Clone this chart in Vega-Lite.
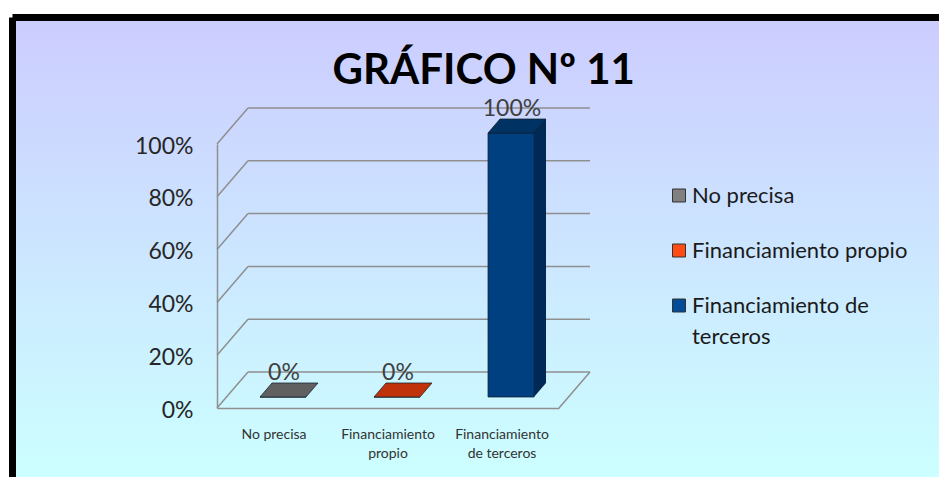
{
  "$schema": "https://vega.github.io/schema/vega-lite/v6.json",
  "width": 926.5,
  "height": 459.5,
  "autosize": {"type": "none"},
  "padding": {"left": 12.5, "top": 17.5, "right": 0, "bottom": 0},
  "background": "#ffffff",
  "view": {
    "fill": {"gradient": "linear", "x1": 0, "y1": 0, "x2": 0, "y2": 1, "stops": [{"offset": 0, "color": "#ccccff"}, {"offset": 1, "color": "#ccffff"}]},
    "stroke": "#000000",
    "strokeWidth": 7,
    "strokeDash": [926.5, 1386, 459.5, 0]
  },
  "config": {"font": "Lato", "style": {"guide-label": {"lineHeight": 31}}},
  "title": {
    "text": "GRÁFICO Nº 11",
    "font": "Lato",
    "fontSize": 42,
    "fontWeight": "bold",
    "color": "#000000",
    "anchor": "middle",
    "frame": "group",
    "offset": 0,
    "baseline": "alphabetic",
    "dy": 108.5,
    "dx": 8
  },
  "datasets": {
    "bars": [
      {"category": "No precisa", "share": 0},
      {"category": "Financiamiento propio", "share": 0},
      {"category": "Financiamiento de terceros", "share": 1}
    ],
    "ticks": [
      {"tick": 0}, {"tick": 0.2}, {"tick": 0.4}, {"tick": 0.6}, {"tick": 0.8}, {"tick": 1}
    ]
  },
  "layer": [
    {
      "data": {"name": "ticks"},
      "mark": {"type": "rule", "color": "#8f8f8f", "strokeWidth": 1.5, "xOffset": 31, "x2Offset": 31, "yOffset": -36},
      "encoding": {
        "x": {"datum": "No precisa", "type": "nominal", "bandPosition": 0},
        "x2": {"datum": "Financiamiento de terceros", "bandPosition": 1},
        "y": {"field": "tick", "type": "quantitative"}
      }
    },
    {
      "data": {"name": "ticks"},
      "mark": {"type": "point", "shape": "M0,0L31,-36", "size": 4, "filled": false, "opacity": 1, "color": "#8f8f8f", "strokeWidth": 1.5},
      "encoding": {
        "x": {"datum": "No precisa", "type": "nominal", "bandPosition": 0},
        "y": {"field": "tick", "type": "quantitative"}
      }
    },
    {
      "data": {"name": "ticks"},
      "transform": [{"filter": "datum.tick == 0"}],
      "mark": {"type": "point", "shape": "M0,0L31,-36", "size": 4, "filled": false, "opacity": 1, "color": "#8f8f8f", "strokeWidth": 1.5},
      "encoding": {
        "x": {"datum": "Financiamiento de terceros", "type": "nominal", "bandPosition": 1},
        "y": {"field": "tick", "type": "quantitative"}
      }
    },
    {
      "data": {"name": "bars"},
      "mark": {"type": "bar", "width": 46, "xOffset": 9, "yOffset": -11, "y2Offset": -11, "stroke": "#10202e", "strokeWidth": 0.75, "opacity": 1},
      "encoding": {
        "x": {
          "field": "category",
          "type": "nominal",
          "scale": {"domain": ["No precisa", "Financiamiento propio", "Financiamiento de terceros"], "range": [204.5, 546.5], "paddingInner": 0, "paddingOuter": 0},
          "axis": {
            "orient": "bottom",
            "offset": -69,
            "title": null,
            "domain": true,
            "domainColor": "#8f8f8f",
            "domainWidth": 1.5,
            "ticks": false,
            "tickSize": 0,
            "grid": false,
            "labelAngle": 0,
            "labelAlign": "center",
            "labelBaseline": "top",
            "labelFont": "Lato",
            "labelFontSize": 14,
            "labelColor": "#333333",
            "labelPadding": 19,
            "labelLineHeight": 19,
            "labelLimit": 200,
            "labelExpr": "datum.value == 'Financiamiento propio' ? ['Financiamiento', 'propio'] : datum.value == 'Financiamiento de terceros' ? ['Financiamiento', 'de terceros'] : datum.label"
          }
        },
        "y": {
          "field": "share",
          "type": "quantitative",
          "scale": {"domain": [0, 1], "range": [390.5, 126.5], "nice": false, "zero": true},
          "axis": {
            "orient": "left",
            "offset": -204.5,
            "title": null,
            "values": [0, 0.2, 0.4, 0.6, 0.8, 1],
            "format": ".0%",
            "domain": true,
            "domainColor": "#8f8f8f",
            "domainWidth": 1.5,
            "ticks": false,
            "tickSize": 0,
            "grid": false,
            "labelFont": "Lato",
            "labelFontSize": 23,
            "labelColor": "#262626",
            "labelPadding": 24,
            "labelOffset": 2
          }
        },
        "color": {
          "field": "category",
          "type": "nominal",
          "scale": {"domain": ["No precisa", "Financiamiento propio", "Financiamiento de terceros"], "range": ["#808080", "#ff4b14", "#004c99"]},
          "legend": {
            "orient": "none",
            "legendX": 655.5,
            "legendY": 167,
            "title": null,
            "padding": 0,
            "symbolType": "square",
            "symbolSize": 169,
            "symbolStrokeColor": "#333333",
            "symbolStrokeWidth": 1,
            "labelFont": "Lato",
            "labelFontSize": 22,
            "labelColor": "#1a1a1a",
            "labelOffset": 2,
            "labelLimit": 400,
            "rowPadding": 33,
            "labelExpr": "datum.label == 'Financiamiento de terceros' ? ['Financiamiento de', 'terceros'] : datum.label",
            "encode": {
              "labels": {"lineHeight": {"value": 31}}
            }
          }
        }
      }
    },
    {
      "data": {"name": "bars"},
      "transform": [{"filter": "datum.share > 0"}],
      "mark": {"type": "bar", "width": 45, "xOffset": 9, "yOffset": -11, "y2Offset": -11, "color": "#000000", "opacity": 0.16},
      "encoding": {
        "x": {"field": "category", "type": "nominal"},
        "y": {"field": "share", "type": "quantitative"}
      }
    },
    {
      "data": {"name": "bars"},
      "transform": [{"filter": "datum.share > 0"}],
      "mark": {"type": "bar", "width": 12, "xOffset": 38, "yOffset": -25, "y2Offset": -25, "opacity": 1},
      "encoding": {
        "x": {"field": "category", "type": "nominal"},
        "y": {"field": "share", "type": "quantitative"},
        "color": {
          "field": "category",
          "type": "nominal",
          "scale": {"domain": ["No precisa", "Financiamiento propio", "Financiamiento de terceros"], "range": ["#4a4a4a", "#9a2a08", "#002a55"]},
          "legend": null
        }
      }
    },
    {
      "data": {"name": "bars"},
      "transform": [{"filter": "datum.share > 0"}],
      "mark": {"type": "point", "shape": "M0,0L12,-14L0,-14Z", "size": 4, "filled": true, "opacity": 1, "xOffset": 32, "yOffset": -11},
      "encoding": {
        "x": {"field": "category", "type": "nominal"},
        "y": {"datum": 0, "type": "quantitative"},
        "color": {
          "field": "category",
          "type": "nominal",
          "scale": {"domain": ["No precisa", "Financiamiento propio", "Financiamiento de terceros"], "range": ["#4a4a4a", "#9a2a08", "#002a55"]},
          "legend": null
        }
      }
    },
    {
      "data": {"name": "bars"},
      "mark": {"type": "point", "shape": "M-23,0L23,0L35,-14L-11,-14Z", "size": 4, "filled": true, "opacity": 1, "stroke": "#10202e", "strokeWidth": 0.75, "xOffset": 9, "yOffset": -11},
      "encoding": {
        "x": {"field": "category", "type": "nominal"},
        "y": {"field": "share", "type": "quantitative"},
        "color": {
          "field": "category",
          "type": "nominal",
          "scale": {"domain": ["No precisa", "Financiamiento propio", "Financiamiento de terceros"], "range": ["#606060", "#c0330a", "#003264"]},
          "legend": null
        }
      }
    },
    {
      "data": {"name": "bars"},
      "mark": {"type": "text", "font": "Lato", "fontSize": 23, "color": "#404040", "xOffset": 10, "yOffset": -35, "baseline": "middle", "align": "center"},
      "encoding": {
        "x": {"field": "category", "type": "nominal"},
        "y": {"field": "share", "type": "quantitative"},
        "text": {"field": "share", "type": "quantitative", "format": ".0%"}
      }
    }
  ],
  "resolve": {"scale": {"color": "independent"}}
}
